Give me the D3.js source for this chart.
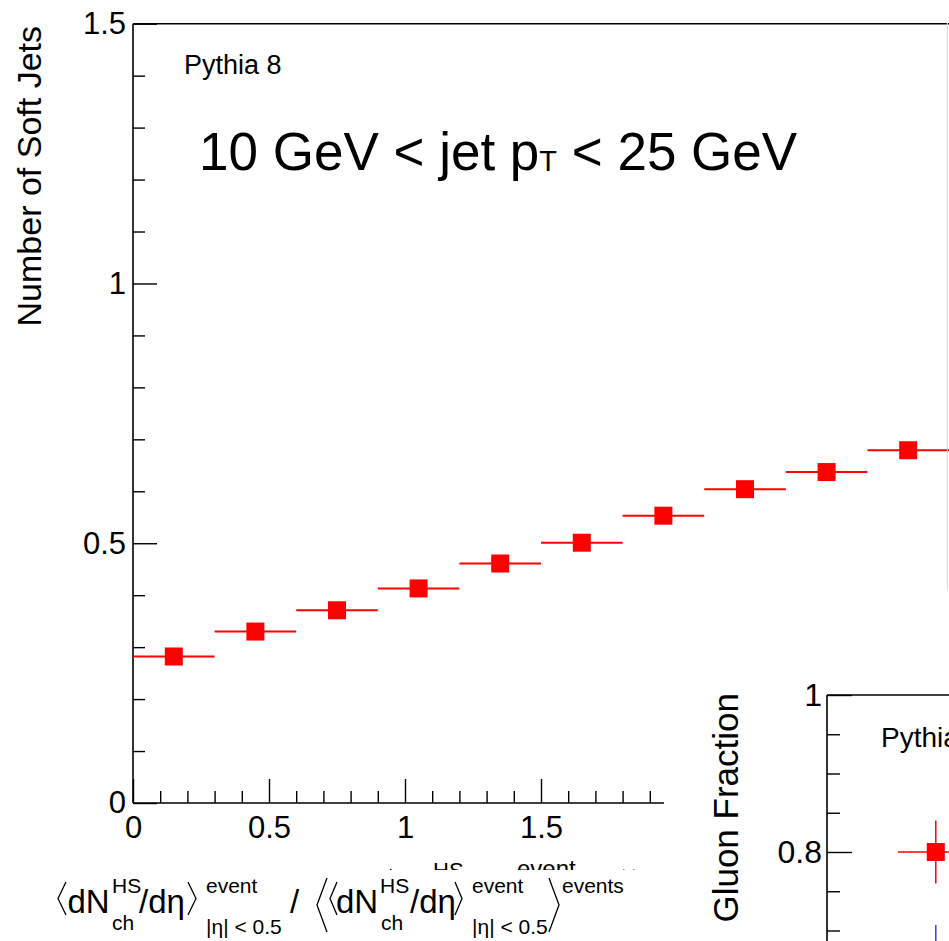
<!DOCTYPE html>
<html><head><meta charset="utf-8">
<script src="https://cdn.jsdelivr.net/npm/d3@7"></script>
<style>
body{margin:0;background:#fff}
svg{display:block}
text{font-family:"Liberation Sans",Arial,Helvetica,sans-serif;fill:#000}
</style>
</head><body>
<svg id="c" width="949" height="941"></svg>
<script>
// ---------------- data ----------------
const binCenters   = [0.15,0.45,0.75,1.05,1.35,1.65,1.95,2.25,2.55,2.85];
const binHalfWidth = [0.15,0.15,0.15,0.15,0.15,0.15,0.15,0.15,0.15,0.15];
const softJets     = [0.282,0.330,0.371,0.413,0.461,0.501,0.553,0.604,0.637,0.679];
const xTickVals    = [0,0.5,1,1.5,2,2.5,3];
const xTickLabels  = ["0","0.5","1","1.5","2","2.5","3"];
const yTickVals    = [0,0.5,1,1.5];
const yTickLabels  = ["0","0.5","1","1.5"];
// inset (gluon fraction)
const insetCenters   = [0.15];
const insetHalfWidth = [0.15];
const gluonRed       = [0.80];
const gluonRedErr    = [0.04];
const gluonBlue      = [0.667];
const gluonBlueErr   = [0.04];
const insetYTickVals   = [0.8,1];
const insetYTickLabels = ["0.8","1"];

const svg = d3.select("#c");
const W = 949, H = 941;

// ---------------- main scales ----------------
const x = d3.scaleLinear().domain([0,3]).range([133,949]);
const y = d3.scaleLinear().domain([0,1.5]).range([803,23.7]);

const main = svg.append("g");
// frame lines
main.append("line").attr("x1",x(0)).attr("x2",x(3)).attr("y1",y(1.5)).attr("y2",y(1.5)).attr("stroke","#000").attr("stroke-width",1.6);
main.append("line").attr("x1",x(0)).attr("x2",x(0)).attr("y1",y(0)).attr("y2",y(1.5)).attr("stroke","#000").attr("stroke-width",1.6);
main.append("line").attr("x1",x(0)).attr("x2",x(3)).attr("y1",y(0)).attr("y2",y(0)).attr("stroke","#000").attr("stroke-width",1.6);

function styleAxis(g, fs){
  g.select(".domain").remove();
  g.selectAll("line").attr("stroke","#000").attr("stroke-width",1.4);
  g.selectAll("text").attr("font-size",fs).attr("font-family",'"Liberation Sans",Arial,Helvetica,sans-serif').attr("fill","#000");
}
// y axis major + minor
const yMajor = d3.axisLeft(y).tickValues(yTickVals).tickFormat((d,i)=>yTickLabels[i]).tickSizeInner(-24).tickSizeOuter(0).tickPadding(7);
main.append("g").attr("transform",`translate(${x(0)},0)`).call(yMajor).call(g=>styleAxis(g,31));
const yMinor = d3.axisLeft(y).tickValues(d3.range(0,1.5001,0.1).filter(v=>Math.abs(v*2-Math.round(v*2))>1e-6)).tickFormat("").tickSizeInner(-12).tickSizeOuter(0);
main.append("g").attr("transform",`translate(${x(0)},0)`).call(yMinor).call(g=>styleAxis(g,31));
// x axis major + minor
const xMajor = d3.axisBottom(x).tickValues(xTickVals).tickFormat((d,i)=>xTickLabels[i]).tickSizeInner(-24).tickSizeOuter(0).tickPadding(13);
main.append("g").attr("transform",`translate(0,${y(0)})`).call(xMajor).call(g=>styleAxis(g,31));
const xMinor = d3.axisBottom(x).tickValues(d3.range(0,3.0001,0.1).filter(v=>Math.abs(v*2-Math.round(v*2))>1e-6)).tickFormat("").tickSizeInner(-12).tickSizeOuter(0);
main.append("g").attr("transform",`translate(0,${y(0)})`).call(xMinor).call(g=>styleAxis(g,31));

// data points
const pts = main.append("g");
pts.selectAll("line.err").data(binCenters).join("line")
  .attr("x1",(d,i)=>x(d-binHalfWidth[i])).attr("x2",(d,i)=>x(d+binHalfWidth[i]))
  .attr("y1",(d,i)=>y(softJets[i])).attr("y2",(d,i)=>y(softJets[i]))
  .attr("stroke","#ff0000").attr("stroke-width",2);
const ms = 18;
pts.selectAll("rect").data(binCenters).join("rect")
  .attr("x",d=>x(d)-ms/2).attr("y",(d,i)=>y(softJets[i])-ms/2)
  .attr("width",ms).attr("height",ms).attr("fill","#ff0000");

// texts
svg.append("text").attr("x",184).attr("y",74).attr("font-size",27).text("Pythia 8");
const t = svg.append("text").attr("x",199).attr("y",170).attr("font-size",53);
t.append("tspan").text("10 GeV < jet p");
t.append("tspan").attr("font-size",29).attr("dy",1).text("T");
t.append("tspan").attr("dy",-1).text(" < 25 GeV");

svg.append("text").attr("transform","translate(41,26) rotate(-90)").attr("text-anchor","end").attr("font-size",34).text("Number of Soft Jets");

// light right edge
svg.append("line").attr("x1",947.5).attr("x2",947.5).attr("y1",22).attr("y2",590).attr("stroke","#dcdcdc").attr("stroke-width",1.2);

// ---------------- x title helper ----------------
function bracket(g, x0, x1, y0, y1, dir){ // dir: 'L' for ⟨, 'R' for ⟩
  const ym=(y0+y1)/2;
  const p = dir==='L' ? `M${x1},${y0} L${x0},${ym} L${x1},${y1}` : `M${x0},${y0} L${x1},${ym} L${x0},${y1}`;
  g.append("path").attr("d",p).attr("fill","none").attr("stroke","#000").attr("stroke-width",1.3);
}
function txt(g, xx, yy, fs, s){ return g.append("text").attr("x",xx).attr("y",yy).attr("font-size",fs).text(s); }

// partially hidden text (clipped)
svg.append("clipPath").attr("id","clipTop").append("rect").attr("x",0).attr("y",800).attr("width",949).attr("height",70);
const part = svg.append("g").attr("clip-path","url(#clipTop)");
bracket(part,384,391,869,902,'L');
txt(part,396,893.5,33,"dN");
txt(part,433,877.5,22,"HS");
txt(part,463,893.5,33,"/dη");
txt(part,517,876.5,24,"event");
bracket(part,618,624,869.6,902,'L');
bracket(part,628,634,869.6,902,'L');

// main x title
const xt = svg.append("g");
const B=913, SUP=893, SUBc=930, SUBe=934, FS=33, FSs=21;
bracket(xt,58,66,882,915,'L');
txt(xt,67.5,B,FS,"dN");
txt(xt,112,SUP,FSs,"HS");
txt(xt,112,SUBc,FSs,"ch");
txt(xt,139,B,FS,"/dη");
bracket(xt,188,196,882,915,'R');
txt(xt,206,SUP,FSs,"event");
txt(xt,206,SUBe,FSs,"|η| < 0.5");
txt(xt,290,B,FS,"/");
bracket(xt,317,327,878,932,'L');
bracket(xt,330,337,882,915,'L');
txt(xt,336,B,FS,"dN");
txt(xt,380,SUP,FSs,"HS");
txt(xt,381,SUBc,FSs,"ch");
txt(xt,410,B,FS,"/dη");
bracket(xt,455,462,882,915,'R');
txt(xt,472,SUP,FSs,"event");
txt(xt,472,SUBe,FSs,"|η| < 0.5");
bracket(xt,549,559,878,932,'R');
txt(xt,562,SUP,FSs,"events");

// ---------------- inset ----------------
svg.append("rect").attr("x",664).attr("y",590).attr("width",W-664).attr("height",H-590).attr("fill","#fff");
const xi = d3.scaleLinear().domain([-0.28,3]).range([827,827+3.28*253]);
const yi = d3.scaleLinear().domain([0.7,1]).range([695+0.3*785,695]);
const ins = svg.append("g");
ins.append("line").attr("x1",xi(-0.28)).attr("x2",W).attr("y1",yi(1)).attr("y2",yi(1)).attr("stroke","#000").attr("stroke-width",1.6);
ins.append("line").attr("x1",xi(-0.28)).attr("x2",xi(-0.28)).attr("y1",yi(1)).attr("y2",H).attr("stroke","#000").attr("stroke-width",1.6);
const yiMajor = d3.axisLeft(yi).tickValues(insetYTickVals).tickFormat((d,i)=>insetYTickLabels[i]).tickSizeInner(-25).tickSizeOuter(0).tickPadding(5);
ins.append("g").attr("transform",`translate(${xi(-0.28)},0)`).call(yiMajor).call(g=>styleAxis(g,32));
const yiMinor = d3.axisLeft(yi).tickValues([0.7,0.75,0.85,0.9,0.95]).tickFormat("").tickSizeInner(-13).tickSizeOuter(0);
ins.append("g").attr("transform",`translate(${xi(-0.28)},0)`).call(yiMinor).call(g=>styleAxis(g,32));
// blue series error bar
ins.selectAll("line.blue").data(insetCenters).join("line")
  .attr("x1",d=>xi(d)).attr("x2",d=>xi(d))
  .attr("y1",(d,i)=>yi(gluonBlue[i]+gluonBlueErr[i])).attr("y2",(d,i)=>yi(gluonBlue[i]-gluonBlueErr[i]))
  .attr("stroke","#3a3aff").attr("stroke-width",1.5);
// red series
ins.selectAll("line.rh").data(insetCenters).join("line")
  .attr("x1",(d,i)=>xi(d-insetHalfWidth[i])).attr("x2",(d,i)=>xi(d+insetHalfWidth[i]))
  .attr("y1",(d,i)=>yi(gluonRed[i])).attr("y2",(d,i)=>yi(gluonRed[i]))
  .attr("stroke","#ff0000").attr("stroke-width",1.5);
ins.selectAll("line.rv").data(insetCenters).join("line")
  .attr("x1",d=>xi(d)).attr("x2",d=>xi(d))
  .attr("y1",(d,i)=>yi(gluonRed[i]+gluonRedErr[i])).attr("y2",(d,i)=>yi(gluonRed[i]-gluonRedErr[i]))
  .attr("stroke","#ff0000").attr("stroke-width",1.5);
ins.selectAll("rect.rm").data(insetCenters).join("rect")
  .attr("x",d=>xi(d)-ms/2).attr("y",(d,i)=>yi(gluonRed[i])-ms/2)
  .attr("width",ms).attr("height",ms).attr("fill","#ff0000");
svg.append("text").attr("x",881).attr("y",747).attr("font-size",28).text("Pythia 8");
svg.append("text").attr("transform","translate(738,693) rotate(-90)").attr("text-anchor","end").attr("font-size",35).text("Gluon Fraction");
</script>
</body></html>
